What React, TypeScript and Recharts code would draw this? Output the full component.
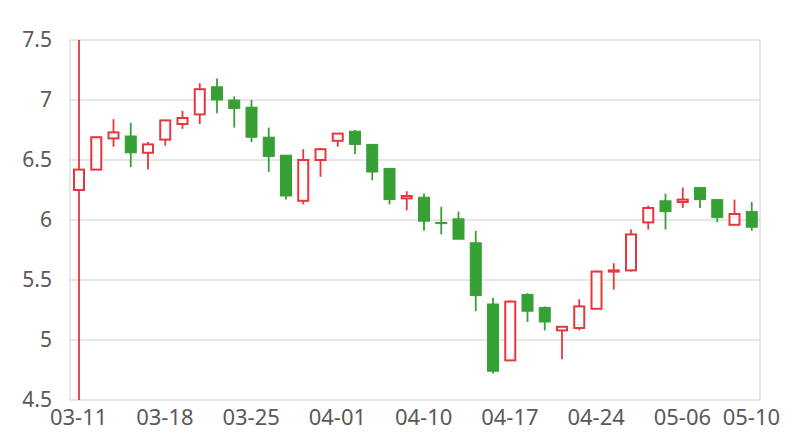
import React from 'react';
import { ComposedChart, Bar, XAxis, YAxis, CartesianGrid } from 'recharts';

const dates = [
  '03-11', '03-12', '03-13', '03-14', '03-15',
  '03-18', '03-19', '03-20', '03-21', '03-22',
  '03-25', '03-26', '03-27', '03-28', '03-29',
  '04-01', '04-02', '04-03',
  '04-08', '04-09', '04-10', '04-11', '04-12',
  '04-15', '04-16', '04-17', '04-18', '04-19',
  '04-22', '04-23', '04-24', '04-25', '04-26',
  '04-29', '04-30',
  '05-06', '05-07', '05-08', '05-09', '05-10',
];

const opens = [
  6.25, 6.42, 6.68, 6.70, 6.56, 6.67, 6.80, 6.88, 7.11, 7.00,
  6.94, 6.69, 6.54, 6.16, 6.50, 6.66, 6.74, 6.63, 6.43, 6.18,
  6.19, 5.98, 6.01, 5.81, 5.30, 4.83, 5.38, 5.27, 5.08, 5.10,
  5.26, 5.57, 5.58, 5.98, 6.16, 6.15, 6.27, 6.17, 5.96, 6.07,
];
const closes = [
  6.42, 6.69, 6.73, 6.56, 6.63, 6.83, 6.85, 7.09, 7.00, 6.93,
  6.69, 6.53, 6.20, 6.50, 6.59, 6.72, 6.63, 6.40, 6.17, 6.20,
  5.99, 5.97, 5.84, 5.37, 4.74, 5.32, 5.24, 5.15, 5.11, 5.28,
  5.57, 5.58, 5.88, 6.10, 6.07, 6.17, 6.17, 6.02, 6.05, 5.94,
];
const highs = [
  7.6, 6.69, 6.84, 6.81, 6.65, 6.83, 6.91, 7.14, 7.18, 7.03,
  7.00, 6.77, 6.54, 6.59, 6.60, 6.72, 6.75, 6.63, 6.43, 6.24,
  6.22, 6.11, 6.07, 5.91, 5.35, 5.33, 5.39, 5.28, 5.11, 5.34,
  5.58, 5.64, 5.92, 6.12, 6.22, 6.27, 6.27, 6.17, 6.17, 6.15,
];
const lows = [
  4.4, 6.42, 6.61, 6.44, 6.42, 6.62, 6.76, 6.80, 6.89, 6.77,
  6.65, 6.40, 6.17, 6.13, 6.36, 6.61, 6.55, 6.33, 6.13, 6.08,
  5.91, 5.88, 5.84, 5.24, 4.72, 4.83, 5.15, 5.08, 4.84, 5.08,
  5.26, 5.42, 5.57, 5.92, 5.92, 6.10, 6.10, 5.98, 5.96, 5.91,
];

const xTickLabels = ['03-11', '03-18', '03-25', '04-01', '04-10', '04-17', '04-24', '05-06', '05-10'];
const yTicks = [4.5, 5, 5.5, 6, 6.5, 7, 7.5];

const RED = '#e8373c';
const GREEN = '#36a035';

const data = dates.map((d, i) => ({
  date: d,
  open: opens[i],
  close: closes[i],
  high: highs[i],
  low: lows[i],
  range: [lows[i], highs[i]],
}));

const Candle = (props: any) => {
  const { x, y, width, height, payload } = props;
  if (!payload) return null;
  const { open, close, high, low } = payload;
  const top = Math.min(y, y + height);
  const h = Math.abs(height);
  const ppu = h / (high - low);
  const yOf = (v: number) => top + (high - v) * ppu;
  const up = close >= open;
  const color = up ? RED : GREEN;
  const cx = x + width / 2;
  const bTop = yOf(Math.max(open, close));
  const bBot = yOf(Math.min(open, close));
  const bh = Math.max(1, bBot - bTop);
  return (
    <g>
      <line x1={cx} x2={cx} y1={yOf(high)} y2={yOf(low)} stroke={color} strokeWidth={1.8} />
      {up ? (
        <rect x={x + 1} y={bTop} width={width - 2} height={bh} fill="#ffffff" stroke={color} strokeWidth={2} />
      ) : (
        <rect x={x + 0.5} y={bTop} width={width - 1} height={bh} fill={color} stroke={color} strokeWidth={1} />
      )}
    </g>
  );
};

export default function App() {
  return (
    <ComposedChart
      width={784}
      height={424}
      data={data}
      margin={{ top: 32, right: 32, left: 0, bottom: 2 }}
      style={{ fontFamily: '"Noto Sans", sans-serif' }}
    >
      <CartesianGrid
        stroke="#d0d0d0"
        strokeWidth={1}
        verticalCoordinatesGenerator={({ offset }: any) => [offset.left, offset.left + offset.width]}
      />
      <XAxis
        dataKey="date"
        ticks={xTickLabels}
        interval={0}
        axisLine={false}
        tickLine={false}
        tickMargin={3}
        height={30}
        tick={{ fill: '#595959', fontSize: 22 }}
      />
      <YAxis
        type="number"
        domain={[4.5, 7.5]}
        ticks={yTicks}
        allowDataOverflow
        axisLine={false}
        tickLine={false}
        tickMargin={12}
        width={62}
        tick={{ fill: '#595959', fontSize: 21 }}
      />
      <Bar dataKey="range" barSize={12} shape={<Candle />} isAnimationActive={false} />
    </ComposedChart>
  );
}
